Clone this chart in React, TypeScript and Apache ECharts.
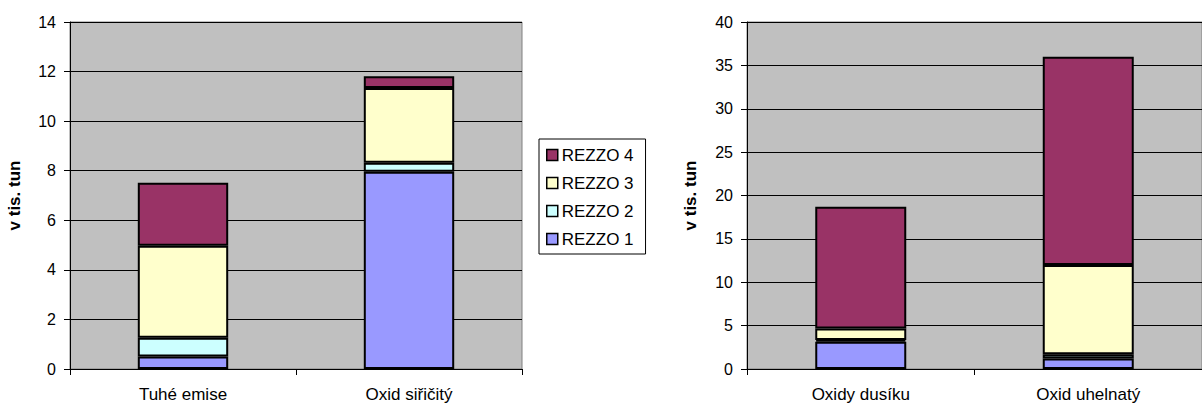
import React, { useEffect, useRef } from "react";
import * as echarts from "echarts";

const leftCategories = ["Tuhé emise", "Oxid siřičitý"];
const rightCategories = ["Oxidy dusíku", "Oxid uhelnatý"];
const seriesNames = ["REZZO 1", "REZZO 2", "REZZO 3", "REZZO 4"];
const leftRezzo1 = [0.5, 7.96];
const leftRezzo2 = [0.76, 0.36];
const leftRezzo3 = [3.71, 3.02];
const leftRezzo4 = [2.54, 0.47];
const rightRezzo1 = [3.15, 1.2];
const rightRezzo2 = [0.2, 0.5];
const rightRezzo3 = [1.32, 10.3];
const rightRezzo4 = [14.04, 24.0];
const leftTicks = { min: 0, max: 14, interval: 2 };
const rightTicks = { min: 0, max: 40, interval: 5 };
const axisTitle = "v tis. tun";
const colors = ["#9999FF", "#CCFFFF", "#FFFFCC", "#993366"];

const FONT = "'Liberation Sans', Arial, sans-serif";

export default function App() {
  const ref = useRef<HTMLDivElement>(null);
  useEffect(() => {
    const chart = echarts.init(ref.current!, null, { renderer: "svg" });
    const leftData = [leftRezzo1, leftRezzo2, leftRezzo3, leftRezzo4];
    const rightData = [rightRezzo1, rightRezzo2, rightRezzo3, rightRezzo4];
    const mkSeries = (data: number[][], idx: number) =>
      data.map((d, i) => ({
        type: "bar",
        name: seriesNames[i],
        stack: "s" + idx,
        xAxisIndex: idx,
        yAxisIndex: idx,
        barWidth: "40%",
        data: d,
        itemStyle: { color: colors[i], borderColor: "#000", borderWidth: 2 },
        emphasis: { disabled: true },
      }));
    const xAxisBase = (cats: string[], gi: number) => ({
      type: "category",
      gridIndex: gi,
      data: cats,
      axisLine: { show: true, lineStyle: { color: "#000", width: 1 } },
      axisTick: { show: true, length: 6, lineStyle: { color: "#000" } },
      axisLabel: { color: "#000", fontSize: 17, fontFamily: FONT, margin: 17 },
      splitLine: { show: false },
    });
    const yAxisBase = (t: any, gi: number, gap: number) => ({
      type: "value",
      gridIndex: gi,
      min: t.min,
      max: t.max,
      interval: t.interval,
      name: axisTitle,
      nameLocation: "middle",
      nameRotate: 90,
      nameGap: gap,
      nameTextStyle: { color: "#000", fontSize: 17, fontWeight: "bold", fontFamily: FONT },
      axisLine: { show: true, lineStyle: { color: "#000", width: 1 } },
      axisTick: { show: true, length: 6, lineStyle: { color: "#000" } },
      axisLabel: { color: "#000", fontSize: 16, fontFamily: FONT, margin: 14 },
      splitLine: { show: true, lineStyle: { color: "#000", width: 1 } },
    });
    chart.setOption({
      animation: false,
      grid: [
        { left: 70, top: 22, width: 452, height: 347, show: true, backgroundColor: "#C0C0C0", borderColor: "#808080", borderWidth: 1 },
        { left: 747, top: 22, width: 466, height: 347, show: true, backgroundColor: "#C0C0C0", borderColor: "#808080", borderWidth: 1 },
      ],
      xAxis: [xAxisBase(leftCategories, 0), xAxisBase(rightCategories, 1)],
      yAxis: [yAxisBase(leftTicks, 0, 47), yAxisBase(rightTicks, 1, 48)],
      legend: {
        orient: "vertical",
        left: 539,
        top: 139,
        data: ["REZZO 4", "REZZO 3", "REZZO 2", "REZZO 1"],
        icon: "rect",
        itemWidth: 11,
        itemHeight: 11,
        itemGap: 10,
        padding: [7, 12, 6, 7],
        backgroundColor: "#fff",
        borderColor: "#000",
        borderWidth: 1,
        borderRadius: 0,
        selectedMode: false,
        textStyle: { color: "#000", fontSize: 17, fontFamily: FONT, lineHeight: 18, padding: [0, 0, 0, -1] },
        itemStyle: { borderColor: "#000", borderWidth: 1.5 },
      },
      series: [...mkSeries(leftData, 0), ...mkSeries(rightData, 1)],
    });
    return () => chart.dispose();
  }, []);
  return (
    <div
      ref={ref}
      style={{ position: "fixed", left: 0, top: 0, width: 1202, height: 403, background: "#fff" }}
    />
  );
}
